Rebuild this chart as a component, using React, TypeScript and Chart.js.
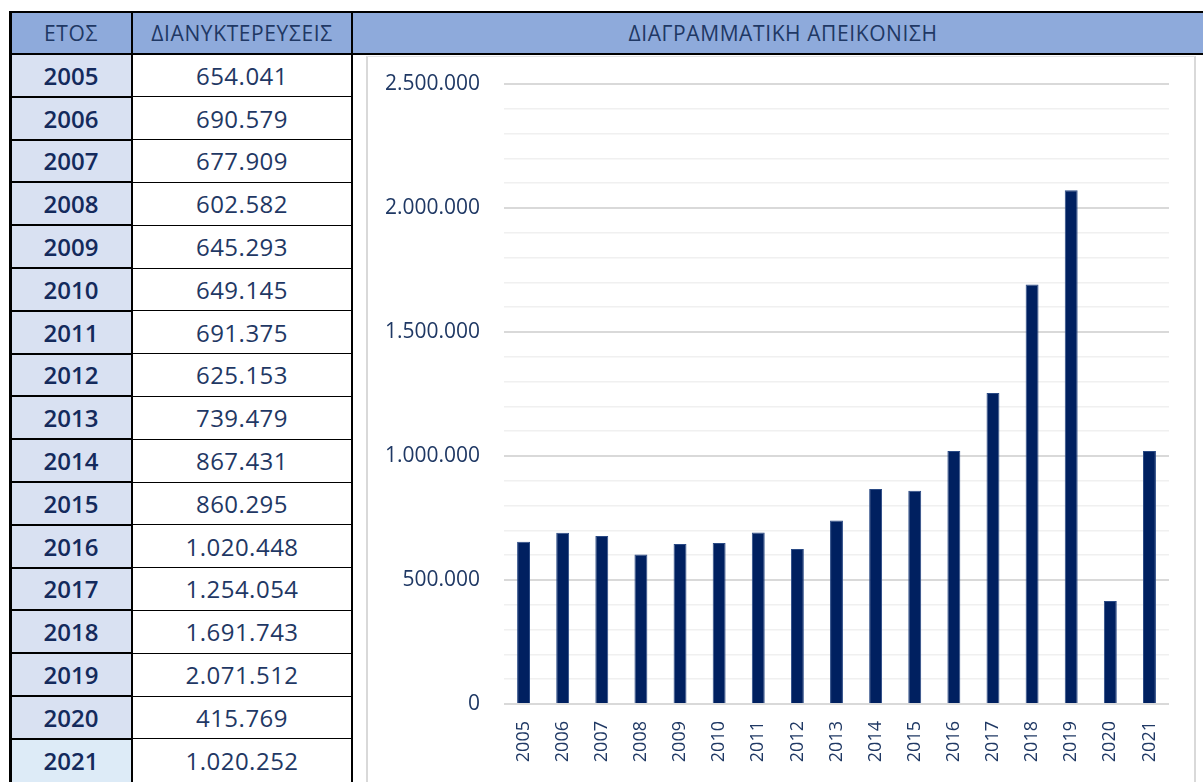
import React, { useEffect, useRef } from "react";
import { Chart, registerables } from "chart.js";

Chart.register(...registerables);

const years = ["2005", "2006", "2007", "2008", "2009", "2010", "2011", "2012", "2013", "2014", "2015", "2016", "2017", "2018", "2019", "2020", "2021"];
const overnights = [654041, 690579, 677909, 602582, 645293, 649145, 691375, 625153, 739479, 867431, 860295, 1020448, 1254054, 1691743, 2071512, 415769, 1020252];
const headerYear = "ΕΤΟΣ";
const headerValue = "ΔΙΑΝΥΚΤΕΡΕΥΣΕΙΣ";
const headerChart = "ΔΙΑΓΡΑΜΜΑΤΙΚΗ ΑΠΕΙΚΟΝΙΣΗ";
const yMax = 2500000;
const yMinorStep = 100000;
const yMajorStep = 500000;

const FONT = "'Open Sans', 'Noto Sans', sans-serif";
const NAVY = "#1f3864";

function fmt(n: number): string {
  return String(Math.round(n)).replace(/\B(?=(\d{3})+(?!\d))/g, ".");
}

const xLabelPlugin = {
  id: "xLabelsRotated",
  afterDraw(chart: any) {
    const { ctx, chartArea } = chart;
    const x = chart.scales.x;
    const labels: string[] = chart.data.labels;
    ctx.save();
    ctx.font = `18px ${FONT}`;
    ctx.fillStyle = NAVY;
    ctx.textAlign = "right";
    ctx.textBaseline = "middle";
    labels.forEach((lab, i) => {
      const px = x.getPixelForValue(i);
      ctx.save();
      ctx.translate(px, chartArea.bottom + 17);
      ctx.rotate(-Math.PI / 2);
      ctx.fillText(lab, 0, 0);
      ctx.restore();
    });
    ctx.restore();
  },
};

const ROW_TOP = 54;
const ROW_H = 42.8;

function BarChart() {
  const ref = useRef<HTMLCanvasElement>(null);
  useEffect(() => {
    if (!ref.current) return;
    const chart = new Chart(ref.current, {
      type: "bar",
      data: {
        labels: years,
        datasets: [
          {
            data: overnights,
            backgroundColor: "#002060",
            borderColor: "#2a4a85",
            borderWidth: 1,
            barPercentage: 0.33,
            categoryPercentage: 1,
          },
        ],
      },
      options: {
        responsive: false,
        animation: false,
        layout: { padding: { top: 27, right: 27, left: 0, bottom: 0 } },
        plugins: { legend: { display: false }, tooltip: { enabled: false } },
        scales: {
          x: {
            grid: { display: false, drawTicks: false },
            border: { display: false },
            ticks: { display: false },
            afterFit: (s: any) => {
              s.height = 78;
            },
          },
          y: {
            min: 0,
            max: yMax,
            border: { display: false },
            grid: {
              drawTicks: false,
              color: (c: any) => (c.tick && c.tick.value % yMajorStep === 0 ? "#d9d9d9" : "#f0f0f0"),
              lineWidth: (c: any) => (c.tick && c.tick.value % yMajorStep === 0 ? 2 : 1.5),
            },
            ticks: {
              stepSize: yMinorStep,
              padding: 24,
              color: NAVY,
              font: { family: FONT, size: 21 },
              callback: (v: any) => (Number(v) % yMajorStep === 0 ? fmt(Number(v)) : ""),
              autoSkip: false,
            },
            afterFit: (s: any) => {
              s.width = 136;
              s.paddingTop = 0;
              s.paddingBottom = 0;
            },
          },
        },
      },
      plugins: [xLabelPlugin],
    });
    return () => chart.destroy();
  }, []);
  return (
    <canvas
      ref={ref}
      width={828}
      height={725}
      style={{ position: "absolute", left: 368, top: 57, width: 828, height: 725, display: "block" }}
    />
  );
}

const headStyle: React.CSSProperties = {
  position: "absolute",
  top: 12,
  height: 42,
  display: "flex",
  alignItems: "center",
  justifyContent: "center",
  color: NAVY,
  fontSize: 21,
  fontWeight: 500,
  letterSpacing: "0.6px",
};

export default function App() {
  const lines: React.ReactNode[] = [];
  for (let i = 1; i < years.length; i++) {
    const y = ROW_TOP + i * ROW_H;
    lines.push(
      <div key={"l1" + i} style={{ position: "absolute", left: 10, top: y - 1, width: 122, height: 2, background: "#000" }} />
    );
    lines.push(
      <div key={"l2" + i} style={{ position: "absolute", left: 132, top: y - 0.5, width: 220, height: 1, background: "#000" }} />
    );
  }
  return (
    <div
      style={{
        position: "fixed",
        left: 0,
        top: 0,
        width: 1203,
        height: 782,
        overflow: "hidden",
        background: "#fff",
        fontFamily: FONT,
      }}
    >
      <div style={{ position: "absolute", left: 10, top: ROW_TOP, width: 122, height: 782 - ROW_TOP, background: "#d9e1f2" }} />
      <div
        style={{
          position: "absolute",
          left: 10,
          top: ROW_TOP + (years.length - 1) * ROW_H,
          width: 122,
          height: 100,
          background: "#ddebf7",
        }}
      />
      <div style={{ position: "absolute", left: 10, top: 12, width: 1200, height: 42, background: "#8eaadb" }} />
      <div style={{ position: "absolute", left: 10, top: 11, width: 1200, height: 2, background: "#000" }} />
      <div style={{ position: "absolute", left: 10, top: 53, width: 1200, height: 2, background: "#000" }} />
      <div style={{ ...headStyle, left: 10, width: 122 }}>{headerYear}</div>
      <div style={{ ...headStyle, left: 132, width: 220 }}>{headerValue}</div>
      <div style={{ ...headStyle, left: 352, width: 862 }}>{headerChart}</div>
      {years.map((yr, i) => (
        <React.Fragment key={yr}>
          <div
            style={{
              position: "absolute",
              left: 10,
              top: ROW_TOP + i * ROW_H,
              width: 122,
              height: ROW_H,
              display: "flex",
              alignItems: "center",
              justifyContent: "center",
              color: "#142a5c",
              fontSize: 24,
              fontWeight: 600,
            }}
          >
            {yr}
          </div>
          <div
            style={{
              position: "absolute",
              left: 132,
              top: ROW_TOP + i * ROW_H,
              width: 220,
              height: ROW_H,
              display: "flex",
              alignItems: "center",
              justifyContent: "center",
              color: NAVY,
              fontSize: 24,
              letterSpacing: "0.5px",
            }}
          >
            {fmt(overnights[i])}
          </div>
        </React.Fragment>
      ))}
      {lines}
      <div style={{ position: "absolute", left: 9, top: 11, width: 3, height: 782, background: "#000" }} />
      <div style={{ position: "absolute", left: 131, top: 11, width: 2, height: 782, background: "#000" }} />
      <div style={{ position: "absolute", left: 351, top: 11, width: 2, height: 782, background: "#000" }} />
      <div
        style={{
          position: "absolute",
          left: 366,
          top: 56,
          width: 830,
          height: 740,
          borderLeft: "2px solid #d9d9d9",
          borderTop: "1px solid #e4e4e4",
          borderRight: "2px solid #d9d9d9",
          boxSizing: "border-box",
        }}
      />
      <BarChart />
    </div>
  );
}
